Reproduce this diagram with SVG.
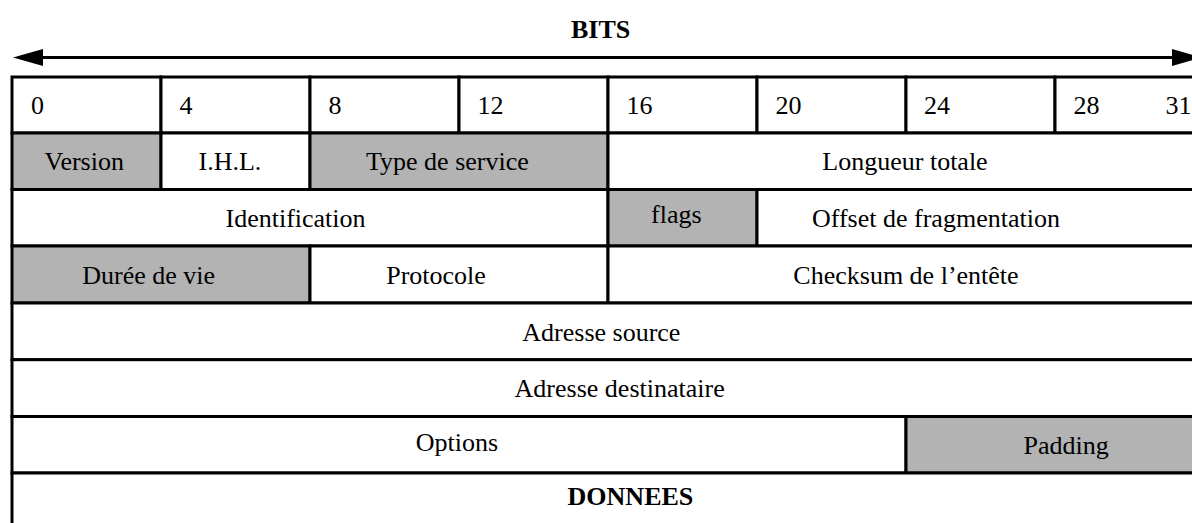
<svg xmlns="http://www.w3.org/2000/svg" width="1192" height="523" viewBox="0 0 1192 523">
<style>
.c{fill:#ffffff;stroke:#000000;stroke-width:3}
.g{fill:#b3b3b3;stroke:#000000;stroke-width:3}
text{font-family:"Liberation Serif","Times New Roman",serif;font-size:26px;fill:#000000}
.b{font-weight:bold}
.m{text-anchor:middle}
</style>
<defs>
<marker id="ah" markerUnits="userSpaceOnUse" markerWidth="32" markerHeight="18" viewBox="0 0 32 18" refX="0" refY="9" orient="auto-start-reverse" overflow="visible">
<path d="M0,0.5 L30,9 L0,17.5 z" fill="#000000"/>
</marker>
</defs>
<rect width="1192" height="523" fill="#ffffff"/>
<g id="connectors">
<line x1="43" y1="57.5" x2="1172" y2="57.5" stroke="#000000" stroke-width="3" marker-start="url(#ah)" marker-end="url(#ah)"/>
</g>
<g id="title"><text class="b" x="571" y="38">BITS</text></g>
<g id="header">
<g id="h0"><rect class="c" x="12" y="77" width="149" height="56"/><text x="31" y="114">0</text></g>
<g id="h4"><rect class="c" x="161" y="77" width="149" height="56"/><text x="179.5" y="114">4</text></g>
<g id="h8"><rect class="c" x="310" y="77" width="149" height="56"/><text x="328.5" y="114">8</text></g>
<g id="h12"><rect class="c" x="459" y="77" width="149" height="56"/><text x="477.5" y="114">12</text></g>
<g id="h16"><rect class="c" x="608" y="77" width="149" height="56"/><text x="626.5" y="114">16</text></g>
<g id="h20"><rect class="c" x="757" y="77" width="149" height="56"/><text x="775.5" y="114">20</text></g>
<g id="h24"><rect class="c" x="906" y="77" width="149" height="56"/><text x="924" y="114">24</text></g>
<g id="h28"><rect class="c" x="1055" y="77" width="149" height="56"/><text x="1073.5" y="114">28</text><text x="1165.5" y="114">31</text></g>
</g>
<g id="version"><rect class="g" x="12" y="133" width="149" height="56.5"/><text x="44.5" y="170">Version</text></g>
<g id="ihl"><rect class="c" x="161" y="133" width="149" height="56.5"/><text x="198.5" y="170">I.H.L.</text></g>
<g id="tos"><rect class="g" x="310" y="133" width="298" height="56.5"/><text x="366" y="170">Type de service</text></g>
<g id="longueur"><rect class="c" x="608" y="133" width="596" height="56.5"/><text class="m" x="905" y="170">Longueur totale</text></g>
<g id="identification"><rect class="c" x="12" y="189.5" width="596" height="56.5"/><text x="225.5" y="226.5">Identification</text></g>
<g id="flags"><rect class="g" x="608" y="189.5" width="149" height="56.5"/><text x="651" y="222.5">flags</text></g>
<g id="offset"><rect class="c" x="757" y="189.5" width="447" height="56.5"/><text x="812" y="226.5">Offset de fragmentation</text></g>
<g id="ttl"><rect class="g" x="12" y="246" width="298" height="57"/><text x="82.3" y="283.5">Durée de vie</text></g>
<g id="protocole"><rect class="c" x="310" y="246" width="298" height="57"/><text class="m" x="436" y="283.5">Protocole</text></g>
<g id="checksum"><rect class="c" x="608" y="246" width="596" height="57"/><text class="m" x="906" y="283.5">Checksum de l’entête</text></g>
<g id="source"><rect class="c" x="12" y="303" width="1192" height="56.7"/><text x="522.3" y="340.5">Adresse source</text></g>
<g id="destination"><rect class="c" x="12" y="359.7" width="1192" height="56.8"/><text x="514.6" y="396.5">Adresse destinataire</text></g>
<g id="options"><rect class="c" x="12" y="416.5" width="894" height="56.5"/><text class="m" x="457" y="451">Options</text></g>
<g id="padding"><rect class="g" x="906" y="416.5" width="298" height="56.5"/><text x="1023.6" y="454">Padding</text></g>
<g id="donnees"><rect class="c" x="12" y="473" width="1192" height="70"/><text class="b" x="567.6" y="505">DONNEES</text></g>
</svg>
